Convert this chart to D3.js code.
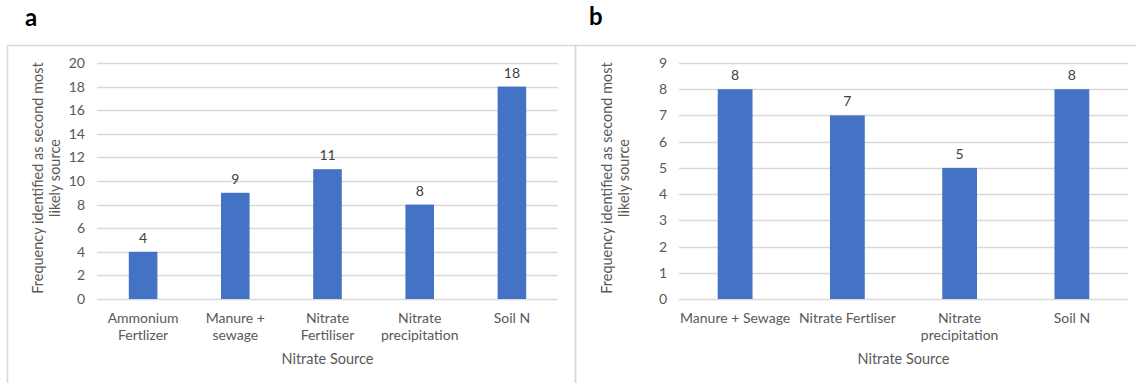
<!DOCTYPE html>
<html>
<head>
<meta charset="utf-8">
<script src="https://cdn.jsdelivr.net/npm/d3@7"></script>
<style>
  body { margin: 0; background: #fff; }
  svg { display: block; font-family: Lato, "Noto Sans", sans-serif; }
  .tick text { fill: #595959; }
</style>
</head>
<body>
<div id="chart"></div>
<script>
// panel a
const catsA = ["Ammonium Fertlizer", "Manure + sewage", "Nitrate Fertiliser", "Nitrate precipitation", "Soil N"];
const tickLinesA = [["Ammonium", "Fertlizer"], ["Manure +", "sewage"], ["Nitrate", "Fertiliser"], ["Nitrate", "precipitation"], ["Soil N"]];
const valuesA = [4, 9, 11, 8, 18];
const yTicksA = [0, 2, 4, 6, 8, 10, 12, 14, 16, 18, 20];

// panel b
const catsB = ["Manure + Sewage", "Nitrate Fertliser", "Nitrate precipitation", "Soil N"];
const tickLinesB = [["Manure + Sewage"], ["Nitrate Fertliser"], ["Nitrate", "precipitation"], ["Soil N"]];
const valuesB = [8, 7, 5, 8];
const yTicksB = [0, 1, 2, 3, 4, 5, 6, 7, 8, 9];

const yTitleLines = ["Frequency identified as second most", "likely source"];
const xTitle = "Nitrate Source";

const W = 1136, H = 383;
const svg = d3.select("#chart").append("svg")
  .attr("width", W)
  .attr("height", H);

// panel frames
svg.append("rect")
  .attr("x", 7.5).attr("y", 45.5)
  .attr("width", 568).attr("height", 360)
  .attr("fill", "none").attr("stroke", "#d9d9d9").attr("stroke-width", 1.5);
svg.append("rect")
  .attr("x", 575.5).attr("y", 45.5)
  .attr("width", 580).attr("height", 360)
  .attr("fill", "none").attr("stroke", "#d9d9d9").attr("stroke-width", 1.5);

// panel letters
svg.append("text").attr("x", 25).attr("y", 26)
  .attr("font-size", 24).attr("font-weight", "bold").attr("fill", "#000").text("a");
svg.append("text").attr("x", 589).attr("y", 25)
  .attr("font-size", 24).attr("font-weight", "bold").attr("fill", "#000").text("b");

function drawPanel(opts) {
  const x = d3.scaleBand()
    .domain(opts.cats)
    .range([opts.left, opts.right])
    .paddingInner(0.69)
    .paddingOuter(0.345);
  const y = d3.scaleLinear()
    .domain([0, opts.yMax])
    .range([opts.bottom, opts.top]);

  const g = svg.append("g");

  // grid lines
  g.selectAll("line.grid").data(opts.yTicks).enter()
    .append("line")
    .attr("class", "grid")
    .attr("x1", opts.left)
    .attr("x2", opts.right)
    .attr("y1", d => Math.round(y(d)) + 0.5)
    .attr("y2", d => Math.round(y(d)) + 0.5)
    .attr("stroke", "#d9d9d9")
    .attr("stroke-width", 1.3);

  // y axis labels
  const yAxis = g.append("g")
    .attr("transform", `translate(${opts.left},0)`)
    .call(d3.axisLeft(y).tickValues(opts.yTicks).tickSize(0).tickPadding(opts.yPad));
  yAxis.select(".domain").remove();
  yAxis.selectAll("text").attr("font-size", 14).attr("font-family", "Lato");

  // bars
  g.selectAll("rect.bar").data(opts.values).enter()
    .append("rect")
    .attr("class", "bar")
    .attr("x", (d, i) => x(opts.cats[i]))
    .attr("y", d => y(d))
    .attr("width", x.bandwidth())
    .attr("height", d => y(0) - y(d))
    .attr("fill", "#4472c4");

  // value labels
  g.selectAll("text.val").data(opts.values).enter()
    .append("text")
    .attr("class", "val")
    .attr("x", (d, i) => x(opts.cats[i]) + x.bandwidth() / 2)
    .attr("y", d => y(d) - 9)
    .attr("text-anchor", "middle")
    .attr("font-size", 14)
    .attr("fill", "#404040")
    .text(d => d);

  // category labels
  opts.tickLines.forEach((lines, i) => {
    const t = g.append("text")
      .attr("x", x(opts.cats[i]) + x.bandwidth() / 2)
      .attr("y", opts.bottom + 24)
      .attr("text-anchor", "middle")
      .attr("font-size", 14)
      .attr("fill", "#595959");
    lines.forEach((ln, j) => {
      t.append("tspan")
        .attr("x", x(opts.cats[i]) + x.bandwidth() / 2)
        .attr("dy", j === 0 ? 0 : 17)
        .text(ln);
    });
  });

  // x title
  g.append("text")
    .attr("x", (opts.left + opts.right) / 2)
    .attr("y", 364)
    .attr("text-anchor", "middle")
    .attr("font-size", 14.5)
    .attr("fill", "#595959")
    .text(xTitle);

  // y title
  const yt = g.append("text")
    .attr("transform", `translate(${opts.titleX},${(opts.top + opts.bottom) / 2 - 3}) rotate(-90)`)
    .attr("text-anchor", "middle")
    .attr("font-size", 14.5)
    .attr("fill", "#595959");
  yTitleLines.forEach((ln, j) => {
    yt.append("tspan")
      .attr("x", 0)
      .attr("dy", j === 0 ? 0 : 17)
      .text(ln);
  });
}

drawPanel({
  cats: catsA, tickLines: tickLinesA, values: valuesA, yTicks: yTicksA, yMax: 20,
  left: 97, right: 558, top: 63, bottom: 299, yPad: 12, titleX: 43
});

drawPanel({
  cats: catsB, tickLines: tickLinesB, values: valuesB, yTicks: yTicksB, yMax: 9,
  left: 679, right: 1128, top: 63, bottom: 299, yPad: 12, titleX: 612
});
</script>
</body>
</html>
